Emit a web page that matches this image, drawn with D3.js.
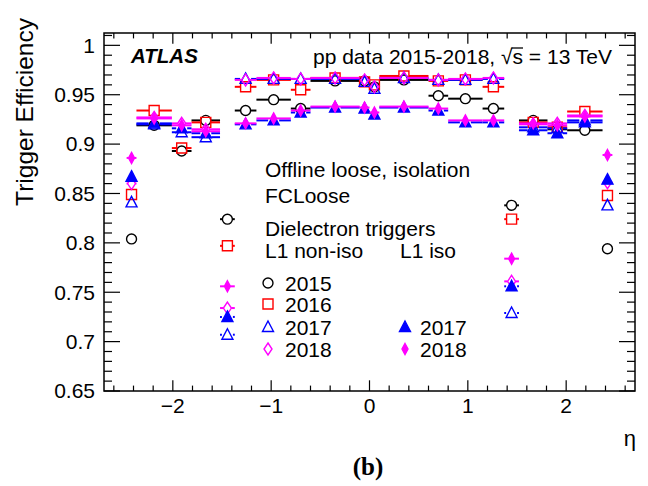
<!DOCTYPE html>
<html><head><meta charset="utf-8">
<script src="https://cdn.jsdelivr.net/npm/d3@7"></script>
<style>body{margin:0;background:#fff}svg text{font-family:"Liberation Sans",Arial,Helvetica,sans-serif}</style>
</head><body>
<svg id="c" width="648" height="486"></svg>
<script>
// eta bins
const binLo = [-2.47,-2.37,-2.01,-1.81,-1.52,-1.37,-1.15,-0.8,-0.6,-0.1,0,0.1,0.6,0.8,1.15,1.37,1.52,1.81,2.01,2.37];
const binHi = [-2.37,-2.01,-1.81,-1.52,-1.37,-1.15,-0.8,-0.6,-0.1,0,0.1,0.6,0.8,1.15,1.37,1.52,1.81,2.01,2.37,2.47];
// L1 non-iso
const eff2015 = [0.804,0.919,0.893,0.924,0.824,0.934,0.945,0.936,0.964,0.964,0.958,0.965,0.949,0.946,0.936,0.838,0.924,0.915,0.914,0.794];
const eff2016 = [0.849,0.934,0.896,0.922,0.797,0.958,0.965,0.955,0.967,0.963,0.960,0.969,0.964,0.965,0.958,0.824,0.922,0.917,0.933,0.848];
const eff2017 = [0.841,0.920,0.912,0.907,0.707,0.966,0.966,0.966,0.966,0.963,0.956,0.967,0.965,0.965,0.966,0.729,0.917,0.916,0.924,0.838];
const eff2018 = [0.860,0.927,0.921,0.915,0.734,0.965,0.967,0.966,0.967,0.965,0.958,0.967,0.965,0.966,0.967,0.761,0.920,0.921,0.929,0.861];
// L1 iso
const iso2017 = [0.867,0.921,0.916,0.911,0.725,0.920,0.924,0.932,0.937,0.936,0.930,0.937,0.934,0.922,0.922,0.756,0.914,0.911,0.922,0.864];
const iso2018 = [0.886,0.926,0.919,0.913,0.756,0.921,0.926,0.934,0.938,0.937,0.932,0.938,0.936,0.924,0.924,0.784,0.921,0.919,0.928,0.889];
const xTicks = [-2,-1,0,1,2];
const yTicks = [0.65,0.7,0.75,0.8,0.85,0.9,0.95,1];

const series = [
  {vals:eff2015, color:"#000000", shape:"circle", fill:false, label:"2015"},
  {vals:eff2016, color:"#ff0000", shape:"square", fill:false, label:"2016"},
  {vals:eff2017, color:"#0000ff", shape:"triangle", fill:false, label:"2017"},
  {vals:eff2018, color:"#ff00ff", shape:"diamond", fill:false, label:"2018"},
  {vals:iso2017, color:"#0000ff", shape:"triangle", fill:true, label:"2017"},
  {vals:iso2018, color:"#ff00ff", shape:"thindiamond", fill:true, label:"2018"}
];

const svg = d3.select("#c");
const L=104, R=635, T=33, B=391;
const x = d3.scaleLinear().domain([-2.7,2.7]).range([L,R]);
const y = d3.scaleLinear().domain([0.65,1.0125]).range([B,T]);

function markerPath(shape){
  switch(shape){
    case "circle": return d3.symbol(d3.symbolCircle, 78)();
    case "square": return "M-5,-5H5V5H-5Z";
    case "triangle": return "M0,-6L5.5,4.5H-5.5Z";
    case "diamond": return "M0,-6L4,0L0,6L-4,0Z";
    case "thindiamond": return "M0,-5.5L3,0L0,5.5L-3,0Z";
  }
}
const halfW = {circle:5, square:5, triangle:5.5, diamond:4, thindiamond:3};

// data
series.forEach(s=>{
  const g = svg.append("g");
  const idx = d3.range(binLo.length);
  g.selectAll("line.l").data(idx).join("line")
    .attr("x1", i=>x(binLo[i])).attr("x2", i=>Math.min(x(binHi[i]), x((binLo[i]+binHi[i])/2)-halfW[s.shape]))
    .attr("y1", i=>y(s.vals[i])).attr("y2", i=>y(s.vals[i]))
    .attr("stroke", s.color).attr("stroke-width",2)
    .attr("display", i=> (x((binLo[i]+binHi[i])/2)-halfW[s.shape] > x(binLo[i])) ? null : "none");
  g.selectAll("line.r").data(idx).join("line")
    .attr("x1", i=>x((binLo[i]+binHi[i])/2)+halfW[s.shape]).attr("x2", i=>x(binHi[i]))
    .attr("y1", i=>y(s.vals[i])).attr("y2", i=>y(s.vals[i]))
    .attr("stroke", s.color).attr("stroke-width",2)
    .attr("display", i=> (x((binLo[i]+binHi[i])/2)+halfW[s.shape] < x(binHi[i])) ? null : "none");
  g.selectAll("path").data(idx).join("path")
    .attr("d", markerPath(s.shape))
    .attr("transform", i=>`translate(${x((binLo[i]+binHi[i])/2)},${y(s.vals[i])})`)
    .attr("fill", s.fill ? s.color : "none")
    .attr("stroke", s.color).attr("stroke-width",1.4);
});

// frame
svg.append("rect").attr("x",L).attr("y",T).attr("width",R-L).attr("height",B-T)
  .attr("fill","none").attr("stroke","#000").attr("stroke-width",1.5);

// ticks
const ax = svg.append("g").attr("stroke","#000").attr("stroke-width",1.2);
const xMinor = d3.range(-2.6,2.71,0.2).map(v=>+v.toFixed(2));
xMinor.forEach(v=>{
  const major = Math.abs(v-Math.round(v))<1e-6;
  const len = major?10.7:5.4;
  ax.append("line").attr("x1",x(v)).attr("x2",x(v)).attr("y1",B).attr("y2",B-len);
  ax.append("line").attr("x1",x(v)).attr("x2",x(v)).attr("y1",T).attr("y2",T+len);
});
d3.range(0.65,1.0126,0.01).forEach(v=>{
  v=+v.toFixed(3);
  const major = Math.abs(v*20-Math.round(v*20))<1e-6;
  const len = major?16:8;
  ax.append("line").attr("x1",L).attr("x2",L+len).attr("y1",y(v)).attr("y2",y(v));
  ax.append("line").attr("x1",R).attr("x2",R-len).attr("y1",y(v)).attr("y2",y(v));
});

// tick labels
svg.append("g").selectAll("text").data(xTicks).join("text")
  .attr("x",d=>x(d)).attr("y",413).attr("text-anchor","middle").attr("font-size",21)
  .text(d=> d<0 ? "\u2212"+Math.abs(d) : d);
svg.append("g").selectAll("text").data(yTicks).join("text")
  .attr("x",95).attr("y",d=>y(d)).attr("dy","0.35em").attr("text-anchor","end").attr("font-size",21)
  .text(d=> d===1 ? "1" : d3.format(".2f")(d).replace(/0$/,"") );

// axis titles
svg.append("text").attr("x",636).attr("y",446).attr("text-anchor","end").attr("font-size",22).text("\u03b7");
svg.append("text").attr("transform","translate(33,18) rotate(-90)").attr("text-anchor","end")
  .attr("font-size",24.5).text("Trigger Efficiency");

// ATLAS label
svg.append("text").attr("x",131).attr("y",63).attr("font-size",20.5).attr("font-weight","bold")
  .attr("font-style","italic").text("ATLAS");
const t = svg.append("text").attr("x",313).attr("y",64).attr("font-size",21);
t.append("tspan").text("pp data 2015-2018, \u221A");
t.append("tspan").text("s");
t.append("tspan").text(" = 13 TeV");
const n1 = "pp data 2015-2018, \u221A".length;
const ext = t.node().getExtentOfChar(n1);
const extR = t.node().getExtentOfChar(n1-1);
svg.append("line").attr("x1",extR.x+extR.width-1).attr("x2",ext.x+ext.width)
  .attr("y1",ext.y+3).attr("y2",ext.y+3).attr("stroke","#000").attr("stroke-width",1.3);

// legend header
const lg = svg.append("g").attr("font-size",21);
lg.append("text").attr("x",265).attr("y",177).text("Offline loose, isolation");
lg.append("text").attr("x",265).attr("y",203).text("FCLoose");
lg.append("text").attr("x",265).attr("y",236).text("Dielectron triggers");
lg.append("text").attr("x",265).attr("y",258).text("L1 non-iso");
lg.append("text").attr("x",400).attr("y",258).text("L1 iso");
const legRows = [283,304,327,349];
series.forEach((s,i)=>{
  const col = i<4 ? 0 : 1;
  const row = i<4 ? i : i-2;
  const mx = col===0 ? 268 : 405;
  const tx = col===0 ? 285 : 420;
  svg.append("path").attr("d",markerPath(s.shape)).attr("transform",`translate(${mx},${legRows[row]})`)
    .attr("fill", s.fill ? s.color : "none").attr("stroke",s.color).attr("stroke-width",1.4);
  svg.append("text").attr("x",tx).attr("y",legRows[row]+7.5).attr("font-size",21).text(s.label);
});

// panel label
svg.append("text").attr("x",368).attr("y",475).attr("text-anchor","middle")
  .style("font-family","'Liberation Serif','Times New Roman',serif")
  .attr("font-weight","bold").attr("font-size",25).text("(b)");
</script>
</body></html>
